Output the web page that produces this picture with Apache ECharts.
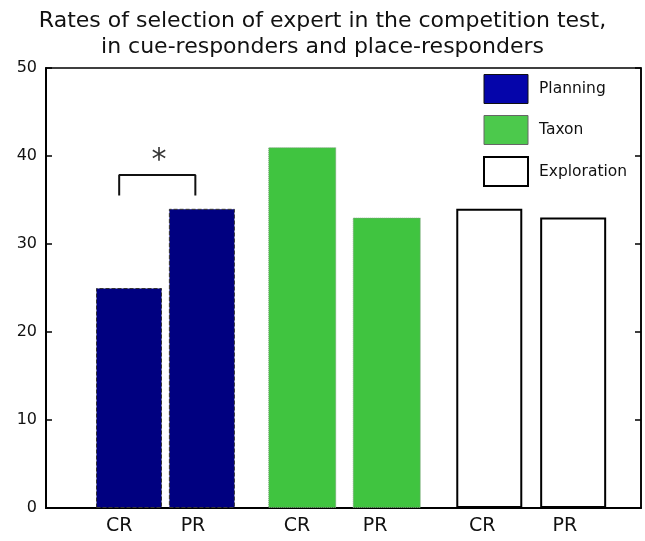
<!DOCTYPE html>
<html>
<head>
<meta charset="utf-8">
<script src="https://cdn.jsdelivr.net/npm/echarts@6/dist/echarts.min.js"></script>
<style>html,body{margin:0;padding:0;background:#fff}#c{width:645px;height:541px}</style>
</head>
<body>
<div id="c"></div>
<script>
// ---- data ----
const titleText = "Rates of selection of expert in the competition test,\nin cue-responders and place-responders";
const groups = ["Planning", "Taxon", "Exploration"];
const groupLabels = ["CR", "PR"];
const planningValues = [25, 34];
const taxonValues = [41, 33];
const explorationValues = [34, 33];
const yTicks = [0, 10, 20, 30, 40, 50];
const significanceMark = "*";

// ---- layout (axis units along a hidden 0..10 x scale) ----
const barSlots = [1.395, 2.62, 4.29, 5.71, 7.45, 8.86];
const labelSlots = [1.23, 2.47, 4.22, 5.53, 7.33, 8.72];
const bracketX = [1.23, 2.51];
const bracketY = [35.5, 37.85];
const starPos = [1.9, 40.25];

const FONT = "DejaVu Sans";
const labelMap = {};
labelSlots.forEach((v, i) => { labelMap[v.toFixed(2)] = groupLabels[i % 2]; });

function pts(vals, offset) {
  return vals.map((v, i) => [barSlots[offset + i], v]);
}

const chart = echarts.init(document.getElementById('c'), null, {renderer: 'canvas'});
chart.setOption({
  animation: false,
  backgroundColor: '#fff',
  title: {
    text: titleText,
    left: 'center',
    top: 3,
    textStyle: {fontFamily: FONT, fontSize: 22, fontWeight: 'normal', color: '#111', lineHeight: 26}
  },
  grid: {left: 46, right: 4, top: 68, bottom: 33, show: true, borderColor: '#000', borderWidth: 1.5, backgroundColor: 'transparent'},
  legend: {
    orient: 'vertical',
    left: 483,
    top: 74,
    itemWidth: 44,
    itemHeight: 29,
    itemGap: 11,
    padding: 0,
    icon: 'rect',
    selectedMode: false,
    textStyle: {fontFamily: FONT, fontSize: 15.5, color: '#111', padding: [0, 0, 0, 6]},
    data: [
      {name: groups[0], itemStyle: {color: '#0505aa', borderColor: '#111', borderWidth: 1}},
      {name: groups[1], itemStyle: {color: '#4cc94c', borderColor: '#666', borderWidth: 1}},
      {name: groups[2], itemStyle: {color: '#fff', borderColor: '#000', borderWidth: 2}}
    ]
  },
  xAxis: {
    type: 'value',
    min: 0, max: 10,
    splitLine: {show: false},
    axisLine: {show: true, onZero: false, lineStyle: {color: '#000', width: 2}},
    axisTick: {show: false},
    axisLabel: {
      show: true,
      customValues: labelSlots,
      formatter: v => labelMap[v.toFixed(2)] || '',
      fontFamily: FONT, fontSize: 19, color: '#111', margin: 9
    }
  },
  yAxis: [
    {
      type: 'value', min: 0, max: 50, interval: 10,
      splitLine: {show: false},
      axisLine: {show: true, lineStyle: {color: '#000', width: 2}},
      axisTick: {show: true, inside: true, length: 6, lineStyle: {color: '#000', width: 1.5}},
      axisLabel: {fontFamily: FONT, fontSize: 16, color: '#111', margin: 9, formatter: v => yTicks.includes(v) ? String(v) : ''}
    },
    {
      type: 'value', min: 0, max: 50, interval: 10, position: 'right',
      splitLine: {show: false},
      axisLine: {show: true, lineStyle: {color: '#000', width: 1.5}},
      axisTick: {show: true, inside: true, length: 6, lineStyle: {color: '#000', width: 1.5}},
      axisLabel: {show: false}
    }
  ],
  series: [
    {
      name: groups[0], type: 'bar', barWidth: 66, barGap: '-100%',
      data: pts(planningValues, 0),
      itemStyle: {color: '#000080', borderColor: '#333', borderWidth: 1, borderType: 'dashed'}
    },
    {
      name: groups[1], type: 'bar', barWidth: 68, barGap: '-100%',
      data: pts(taxonValues, 2),
      itemStyle: {color: '#40c440', borderColor: '#7f9f7f', borderWidth: 1, borderType: 'dotted'}
    },
    {
      name: groups[2], type: 'bar', barWidth: 66, barGap: '-100%',
      data: pts(explorationValues, 4),
      itemStyle: {color: '#fff', borderColor: '#000', borderWidth: 2}
    },
    {
      name: 'bracket', type: 'line', symbol: 'none', silent: true,
      data: [[bracketX[0], bracketY[0]], [bracketX[0], bracketY[1]], [bracketX[1], bracketY[1]], [bracketX[1], bracketY[0]]],
      lineStyle: {color: '#111', width: 2}
    },
    {
      name: 'star', type: 'scatter', symbolSize: 1, silent: true,
      itemStyle: {color: 'transparent'},
      data: [starPos],
      label: {show: true, position: 'inside', formatter: significanceMark, fontFamily: FONT, fontSize: 30, color: '#000', offset: [0, 7]}
    }
  ]
});
</script>
</body>
</html>
